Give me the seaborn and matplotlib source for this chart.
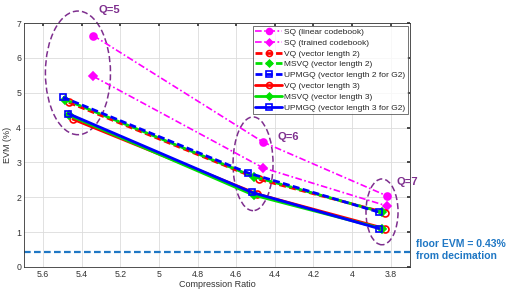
import matplotlib
matplotlib.use("Agg")
import matplotlib.pyplot as plt
from matplotlib.patches import Ellipse
import seaborn as sns
import pandas as pd

sns.set_theme(style="white")
plt.rcParams['font.family'] = ['Liberation Sans', 'DejaVu Sans']

# ---- data ----
q_labels = ["Q=5", "Q=6", "Q=7"]
sq_lin_x = [5.34, 4.46, 3.82]
sq_lin_y = [6.64, 3.58, 2.04]
sq_tr_x = [5.34, 4.46, 3.82]
sq_tr_y = [5.47, 2.84, 1.75]
vq2_x = [5.467, 4.48, 3.83]
vq2_y = [4.72, 2.51, 1.56]
msvq2_x = [5.485, 4.51, 3.845]
msvq2_y = [4.80, 2.59, 1.57]
upmgq2_x = [5.498, 4.54, 3.86]
upmgq2_y = [4.87, 2.70, 1.57]
vq3_x = [5.446, 4.49, 3.83]
vq3_y = [4.24, 2.09, 1.10]
msvq3_x = [5.465, 4.51, 3.845]
msvq3_y = [4.35, 2.06, 1.10]
upmgq3_x = [5.47, 4.52, 3.86]
upmgq3_y = [4.40, 2.14, 1.10]
floor_evm = 0.43

series = [
    ("SQ (linear codebook)", sq_lin_x, sq_lin_y, "#FF00FF", (0, (4, 1.5, 1, 1.5)), "o", True, 1.2),
    ("SQ (trained codebook)", sq_tr_x, sq_tr_y, "#FF00FF", (0, (4, 1.5, 1, 1.5)), "D", True, 1.2),
    ("VQ (vector length 2)", vq2_x, vq2_y, "#FF0000", (0, (2.5, 1.2)), "o", False, 2.0),
    ("MSVQ (vector length 2)", msvq2_x, msvq2_y, "#00E000", (0, (2.5, 1.2)), "D", True, 2.0),
    ("UPMGQ (vector length 2 for G2)", upmgq2_x, upmgq2_y, "#0000FF", (0, (2.5, 1.2)), "s", False, 2.0),
    ("VQ (vector length 3)", vq3_x, vq3_y, "#FF0000", "-", "o", False, 2.0),
    ("MSVQ (vector length 3)", msvq3_x, msvq3_y, "#00E000", "-", "D", True, 2.0),
    ("UPMGQ (vector length 3 for G2)", upmgq3_x, upmgq3_y, "#0000FF", "-", "s", False, 2.0),
]

fig = plt.figure(figsize=(5.19, 2.92), dpi=100)
ax = fig.add_axes([0.046, 0.086, 0.744, 0.835])

for label, xs, ys, col, ls, mk, filled, lw in series:
    df = pd.DataFrame({"x": xs, "y": ys})
    sns.lineplot(data=df, x="x", y="y", ax=ax, sort=False, color=col,
                 linestyle=ls, linewidth=lw, marker=mk, markersize=5 if mk != "D" else 4,
                 markerfacecolor=(col if filled else "none"), markeredgecolor=col,
                 markeredgewidth=1.2, label=label)

ax.axhline(floor_evm, color="#1f77c4", linestyle=(0, (3, 1.5)), linewidth=1.6)

ax.set_xlim(5.7, 3.7)
ax.set_ylim(0, 7)
ax.set_xticks([5.6, 5.4, 5.2, 5.0, 4.8, 4.6, 4.4, 4.2, 4.0, 3.8])
ax.set_xticklabels(["5.6", "5.4", "5.2", "5", "4.8", "4.6", "4.4", "4.2", "4", "3.8"])
ax.set_yticks(range(0, 8))
ax.grid(True, color="#dcdcdc", linewidth=0.6)
ax.tick_params(direction="in", length=2.5, labelsize=6.3, top=True, right=True,
               colors="#333333", pad=2)
for sp in ax.spines.values():
    sp.set_color("#333333")
    sp.set_linewidth(0.6)
ax.set_xlabel("Compression Ratio", fontsize=6.5, color="#333333", labelpad=2)
ax.set_ylabel("EVM (%)", fontsize=6.5, color="#333333", labelpad=3)
ax.xaxis.set_label_coords(0.5, -0.055)

leg = ax.legend(loc="upper right", fontsize=6, labelspacing=0.36, handlelength=3.2,
                handletextpad=0.3, borderpad=0.3, frameon=True, fancybox=False,
                bbox_to_anchor=(0.995, 0.99), borderaxespad=0.0, markerscale=0.85)
leg.get_frame().set_edgecolor("#333333")
leg.get_frame().set_linewidth(0.6)

purple = "#7E2F8E"
ellipses = [((5.42, 5.57), 0.337, 3.55), ((4.513, 2.96), 0.207, 2.69), ((3.845, 1.58), 0.166, 1.89)]
for (c, w, h) in ellipses:
    e = Ellipse(c, w, h, fill=False, edgecolor=purple, linestyle=(0, (4, 2)),
                linewidth=1.1, clip_on=False)
    ax.add_patch(e)

ax.text(5.26, 7.38, q_labels[0], color=purple, fontsize=8, fontweight="bold", ha="center", va="center", clip_on=False)
ax.text(4.33, 3.73, q_labels[1], color=purple, fontsize=8, fontweight="bold", ha="center", va="center")
ax.text(3.716, 2.44, q_labels[2], color=purple, fontsize=8, fontweight="bold", ha="center", va="center", clip_on=False)

fig.text(416/519, 1 - 250/292, "floor EVM = 0.43%\nfrom decimation", color="#1f77c4",
         fontsize=7.5, fontweight="bold", ha="left", va="center", linespacing=1.3)

fig.savefig("out.png", dpi=100)
